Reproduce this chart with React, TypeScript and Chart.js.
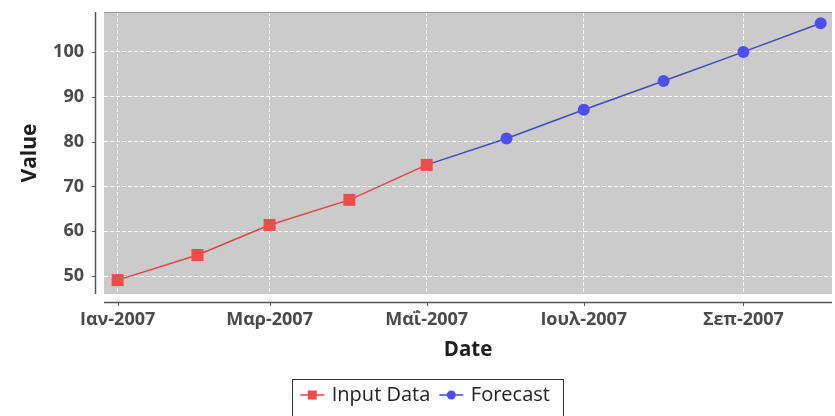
import React, { useEffect, useRef } from "react";
import { Chart, registerables } from "chart.js";
Chart.register(...registerables);

const inputDates = ["2007-01-01", "2007-02-01", "2007-03-01", "2007-04-01", "2007-05-01"];
const inputValues = [49.1, 54.7, 61.4, 67.0, 74.8];
const forecastDates = ["2007-05-01", "2007-06-01", "2007-07-01", "2007-08-01", "2007-09-01", "2007-10-01"];
const forecastValues = [74.8, 80.7, 87.1, 93.5, 100.0, 106.4];
const xTickDates = ["2007-01-01", "2007-03-01", "2007-05-01", "2007-07-01", "2007-09-01"];
const xTickLabels = ["Ιαν-2007", "Μαρ-2007", "Μαΐ-2007", "Ιουλ-2007", "Σεπ-2007"];
const yTickValues = [50, 60, 70, 80, 90, 100];
const seriesNames = ["Input Data", "Forecast"];
const axisTitles = { x: "Date", y: "Value" };

const BASE = Date.UTC(2007, 0, 1);
const dayOf = (s: string) => (Date.parse(s + "T00:00:00Z") - BASE) / 86400000;
const xTickDays = xTickDates.map(dayOf);

const RED_LINE = "#d94848";
const RED_PT = "#f04c4c";
const BLUE_LINE = "#4848b8";
const BLUE_PT = "#4e4ef0";
const TICK_FONT = { family: "'Open Sans', sans-serif", size: 18, weight: "bold" as const };
const XTITLE_FONT = { family: "'Open Sans', sans-serif", size: 20.5, weight: "bold" as const };
const YTITLE_FONT = { family: "'Open Sans', sans-serif", size: 21, weight: "bold" as const };

const framePlugin = {
  id: "frame",
  beforeDraw(chart: any) {
    const { ctx, chartArea: a } = chart;
    ctx.save();
    ctx.fillStyle = "#cbcbcb";
    ctx.fillRect(a.left, a.top, a.right - a.left, a.bottom - a.top);
    ctx.restore();
  },
  afterDraw(chart: any) {
    const { ctx, chartArea: a } = chart;
    const xs = chart.scales.x;
    const ys = chart.scales.y;
    ctx.save();
    // plot outline
    ctx.strokeStyle = "#9a9a9a";
    ctx.lineWidth = 1;
    ctx.beginPath();
    ctx.moveTo(a.left, a.top + 0.5);
    ctx.lineTo(a.right, a.top + 0.5);
    ctx.stroke();
    // y axis line
    ctx.strokeStyle = "#555";
    ctx.lineWidth = 1.5;
    const yx = a.left - 8.5;
    ctx.beginPath();
    ctx.moveTo(yx, a.top);
    ctx.lineTo(yx, a.bottom);
    ctx.stroke();
    ctx.lineWidth = 1;
    yTickValues.forEach((v) => {
      const py = Math.round(ys.getPixelForValue(v)) + 0.5;
      ctx.beginPath();
      ctx.moveTo(yx - 3.5, py);
      ctx.lineTo(yx, py);
      ctx.stroke();
    });
    // x axis line
    const xy = a.bottom + 8.5;
    ctx.lineWidth = 1.5;
    ctx.beginPath();
    ctx.moveTo(a.left, xy);
    ctx.lineTo(a.right, xy);
    ctx.stroke();
    ctx.lineWidth = 1;
    xTickDays.forEach((d) => {
      const px = Math.round(xs.getPixelForValue(d)) + 0.5;
      ctx.beginPath();
      ctx.moveTo(px, xy);
      ctx.lineTo(px, xy + 3.5);
      ctx.stroke();
    });

    // legend
    ctx.font = "20px 'Open Sans', sans-serif";
    const items = chart.data.datasets.map((ds: any) => ({
      label: ds.label,
      line: ds.borderColor,
      pt: ds.pointBackgroundColor,
      style: ds.pointStyle,
    }));
    const padL = 8, seg = 24, gap = 7.5, itemGap = 9, padR = 13;
    let total = padL + padR;
    items.forEach((it: any, i: number) => {
      total += seg + gap + ctx.measureText(it.label).width + (i > 0 ? itemGap : 0);
    });
    const cx = 427.6;
    const top = 379;
    const cy = 395;
    let x = cx - total / 2;
    ctx.strokeStyle = "#333";
    ctx.lineWidth = 1;
    ctx.strokeRect(Math.round(x) + 0.5, top + 0.5, Math.round(total), 60);
    x += padL;
    items.forEach((it: any, i: number) => {
      if (i > 0) x += itemGap;
      ctx.strokeStyle = it.line;
      ctx.lineWidth = 1.5;
      ctx.beginPath();
      ctx.moveTo(x, cy);
      ctx.lineTo(x + seg, cy);
      ctx.stroke();
      ctx.fillStyle = it.pt;
      if (it.style === "rect") {
        ctx.fillRect(x + seg / 2 - 4.5, cy - 4.5, 9, 9);
      } else {
        ctx.beginPath();
        ctx.arc(x + seg / 2, cy, 4.5, 0, Math.PI * 2);
        ctx.fill();
      }
      x += seg + gap;
      ctx.fillStyle = "#222";
      ctx.textBaseline = "middle";
      ctx.textAlign = "left";
      ctx.fillText(it.label, x, cy);
      x += ctx.measureText(it.label).width;
    });
    ctx.restore();
  },
};

export default function App() {
  const ref = useRef<HTMLCanvasElement | null>(null);
  useEffect(() => {
    if (!ref.current) return;
    const chart = new Chart(ref.current, {
      type: "line",
      data: {
        datasets: [
          {
            label: seriesNames[0],
            data: inputDates.map((d, i) => ({ x: dayOf(d), y: inputValues[i] })),
            borderColor: RED_LINE,
            borderWidth: 1.5,
            pointStyle: "rect",
            pointRadius: 8.5,
            pointBackgroundColor: RED_PT,
            pointBorderColor: RED_PT,
            pointBorderWidth: 0,
            tension: 0,
          },
          {
            label: seriesNames[1],
            data: forecastDates.map((d, i) => ({ x: dayOf(d), y: forecastValues[i] })),
            borderColor: BLUE_LINE,
            borderWidth: 1.5,
            pointStyle: "circle",
            pointRadius: forecastDates.map((_, i) => (i === 0 ? 0 : 6)),
            pointBackgroundColor: BLUE_PT,
            pointBorderColor: BLUE_PT,
            pointBorderWidth: 0,
            tension: 0,
          },
        ],
      },
      options: {
        animation: false,
        responsive: false,
        maintainAspectRatio: false,
        devicePixelRatio: 1,
        layout: { autoPadding: false, padding: { top: 12, right: 3, left: 0, bottom: 0 } },
        plugins: { legend: { display: false }, tooltip: { enabled: false } },
        scales: {
          x: {
            type: "linear",
            min: -5.3,
            max: 277.4,
            afterFit: (s: any) => {
              s.height = 122;
              s.paddingLeft = 0;
              s.paddingRight = 0;
              s.paddingTop = 0;
              s.paddingBottom = 0;
            },
            afterBuildTicks: (s: any) => {
              s.ticks = xTickDays.map((v) => ({ value: v }));
            },
            ticks: {
              padding: 15,
              color: "#4a4a4a",
              font: TICK_FONT,
              maxRotation: 0,
              autoSkip: false,
              callback: (v: any) => {
                const i = xTickDays.indexOf(Number(v));
                return i >= 0 ? xTickLabels[i] : "";
              },
            },
            grid: { color: "#ffffff", lineWidth: 1, drawTicks: false },
            border: { display: false, dash: [4, 2] },
            title: { display: true, text: axisTitles.x, color: "#1e1e1e", font: XTITLE_FONT, padding: { top: 0, bottom: 54 } },
          },
          y: {
            type: "linear",
            min: 46,
            max: 108.9,
            afterFit: (s: any) => {
              s.width = 104;
              s.paddingLeft = 0;
              s.paddingRight = 0;
              s.paddingTop = 0;
              s.paddingBottom = 0;
            },
            afterBuildTicks: (s: any) => {
              s.ticks = yTickValues.map((v) => ({ value: v }));
            },
            ticks: { padding: 20, color: "#4a4a4a", font: TICK_FONT },
            grid: { color: "#ffffff", lineWidth: 1, drawTicks: false },
            border: { display: false, dash: [4, 2] },
            title: { display: true, text: axisTitles.y, color: "#1e1e1e", font: YTITLE_FONT, padding: { top: 17, bottom: 0 } },
          },
        },
      },
      plugins: [framePlugin],
    });
    return () => chart.destroy();
  }, []);
  return (
    <div style={{ position: "absolute", left: 0, top: 0, width: 835, height: 416, background: "#fff" }}>
      <canvas ref={ref} width={835} height={416} style={{ display: "block", width: 835, height: 416 }} />
    </div>
  );
}
